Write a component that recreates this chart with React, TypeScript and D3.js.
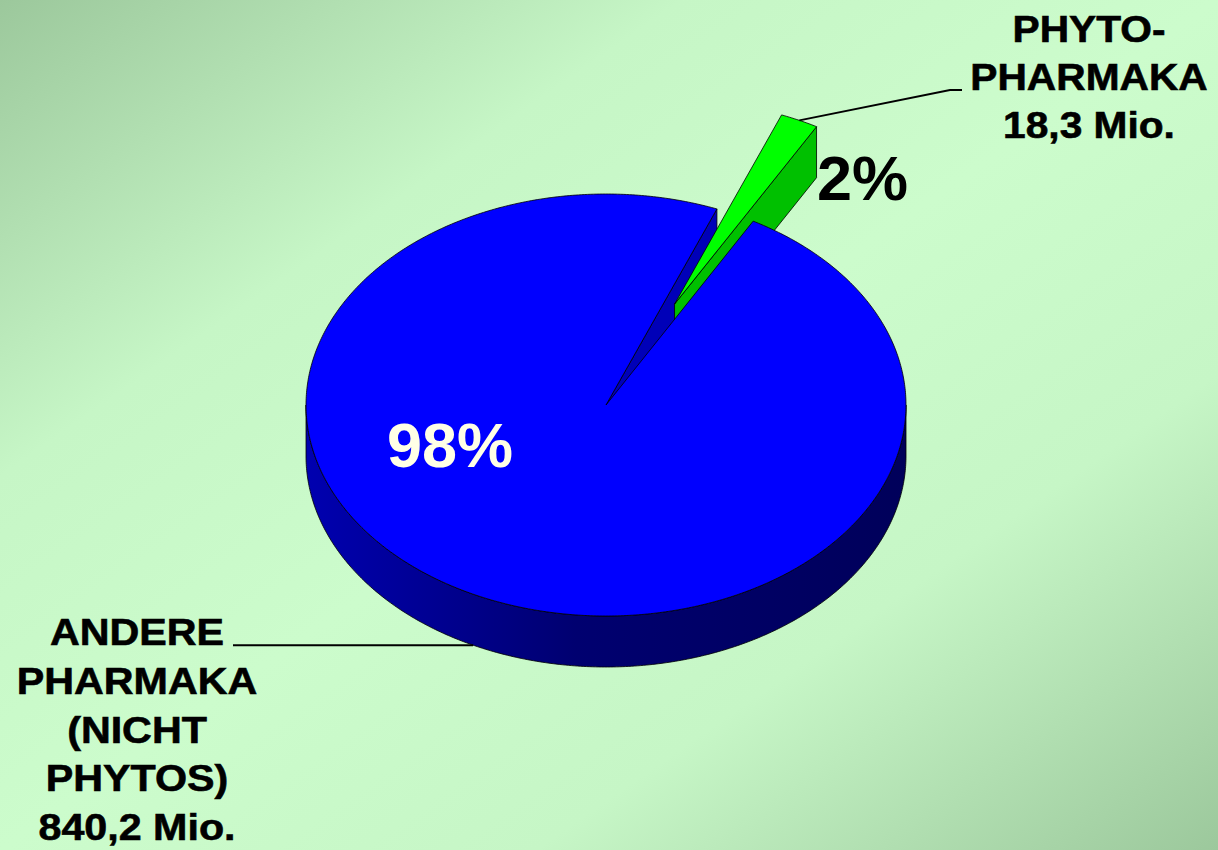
import React from "react";
import * as d3 from "d3";

const categories = ["PHYTO-PHARMAKA", "ANDERE PHARMAKA (NICHT PHYTOS)"];
const values = [18.3, 840.2];
const percentLabels = ["2%", "98%"];
const rightLabelLines = ["PHYTO-", "PHARMAKA", "18,3 Mio."];
const leftLabelLines = ["ANDERE", "PHARMAKA", "(NICHT", "PHYTOS)", "840,2 Mio."];

const W = 1218;
const H = 850;
const CX = 606;
const CY = 405;
const RX = 300;
const RY = 211;
const DEPTH = 51;
const START_DEG = 21.7;
const EXPLODE = 0.53;
const GREEN_R = 0.965;

function proj(theta: number, r: number, z: number, ox = 0, oy = 0): [number, number] {
  return [CX + RX * r * Math.sin(theta) + ox, CY - RY * r * Math.cos(theta) + z * DEPTH + oy];
}

function arcPts(a0: number, a1: number, z: number, ox = 0, oy = 0, r = 1): [number, number][] {
  const n = Math.max(8, Math.ceil(Math.abs(a1 - a0) / 0.01));
  return d3.range(n + 1).map((i) => proj(a0 + ((a1 - a0) * i) / n, r, z, ox, oy));
}

const line = d3.line<[number, number]>().x((d) => d[0]).y((d) => d[1]);

export default function App() {
  const pie = d3
    .pie<number>()
    .sort(null)
    .startAngle((START_DEG * Math.PI) / 180)
    .endAngle((START_DEG * Math.PI) / 180 + 2 * Math.PI)(values);
  const g = pie[0];
  const b = pie[1];
  const mid = (g.startAngle + g.endAngle) / 2;
  const gox = RX * EXPLODE * Math.sin(mid);
  const goy = -RY * EXPLODE * Math.cos(mid);

  // Blue outer side (front half)
  const sideTop = arcPts(Math.PI / 2, (3 * Math.PI) / 2, 0);
  const sideBot = arcPts((3 * Math.PI) / 2, Math.PI / 2, 1);
  const blueSide = line([...sideTop, ...sideBot]) + "Z";

  // Blue end wall
  const bEnd = b.endAngle;
  const blueWall =
    line([proj(0, 0, 0), proj(bEnd, 1, 0), proj(bEnd, 1, 1), proj(0, 0, 1)]) + "Z";

  // Blue top
  const blueTop = line([proj(0, 0, 0), ...arcPts(b.startAngle, b.endAngle, 0)]) + "Z";

  // Green end face & top
  const gEnd = g.endAngle;
  const greenFace =
    line([
      proj(0, 0, 0, gox, goy),
      proj(gEnd, GREEN_R, 0, gox, goy),
      proj(gEnd, GREEN_R, 1, gox, goy),
      proj(0, 0, 1, gox, goy),
    ]) + "Z";
  const greenTop =
    line([proj(0, 0, 0, gox, goy), ...arcPts(g.startAngle, g.endAngle, 0, gox, goy, GREEN_R)]) + "Z";

  // Leader lines
  const gAnchor = proj(mid, GREEN_R, 0, gox, goy);
  const rightLeader = line([gAnchor, [950, 90], [962, 90]]);
  const bAnchor = proj((206.3 * Math.PI) / 180, 1, 1);
  const leftLeader = line([[233, bAnchor[1]], bAnchor]);

  const font = "'Liberation Sans', Arial, sans-serif";

  return (
    <svg
      width={W}
      height={H}
      style={{ position: "fixed", left: 0, top: 0 }}
      xmlns="http://www.w3.org/2000/svg"
    >
      <defs>
        <linearGradient id="bg" x1="0" y1="0" x2="1" y2="1">
          <stop offset="0" stopColor="#9cc89c" />
          <stop offset="0.28" stopColor="#c6f6c6" />
          <stop offset="0.5" stopColor="#ccfccc" />
          <stop offset="0.72" stopColor="#c6f6c6" />
          <stop offset="1" stopColor="#9cc89c" />
        </linearGradient>
        <linearGradient id="side" gradientUnits="userSpaceOnUse" x1={CX - RX} y1="0" x2={CX + RX} y2="0">
          <stop offset="0" stopColor="#0000b0" />
          <stop offset="0.45" stopColor="#000070" />
          <stop offset="1" stopColor="#00005a" />
        </linearGradient>
      </defs>
      <rect x={0} y={0} width={W} height={H} fill="url(#bg)" />

      <path d={blueSide} fill="url(#side)" stroke="#000" strokeWidth={0.8} />
      <path d={blueWall} fill="#0000b8" stroke="#000" strokeWidth={0.8} />
      <path d={greenFace} fill="#00c000" stroke="#000" strokeWidth={0.8} />
      <path d={greenTop} fill="#00ff00" stroke="#000" strokeWidth={0.8} />
      <path d={blueTop} fill="#0000ff" stroke="#000" strokeWidth={0.8} />

      <path d={rightLeader} fill="none" stroke="#000" strokeWidth={2} />
      <path d={leftLeader} fill="none" stroke="#000" strokeWidth={2} />

      <text x={817} y={200} fontFamily={font} fontWeight="bold" fontSize={63} fill="#000">
        {percentLabels[0]}
      </text>
      <text x={387} y={467} fontFamily={font} fontWeight="bold" fontSize={63} fill="#ffffe6">
        {percentLabels[1]}
      </text>

      <g transform="translate(1089,0) scale(1.1,1)">
        {rightLabelLines.map((t, i) => (
          <text
            key={t}
            x={0}
            y={42 + i * 48}
            textAnchor="middle"
            fontFamily={font}
            fontWeight="bold"
            fontSize={37}
            fill="#000"
            stroke="#000"
            strokeWidth={0.6}
          >
            {t}
          </text>
        ))}
      </g>
      <g transform="translate(137,0) scale(1.1,1)">
        {leftLabelLines.map((t, i) => (
          <text
            key={t}
            x={0}
            y={645 + i * 48.8}
            textAnchor="middle"
            fontFamily={font}
            fontWeight="bold"
            fontSize={37.5}
            fill="#000"
            stroke="#000"
            strokeWidth={0.6}
          >
            {t}
          </text>
        ))}
      </g>
      <title>{categories.join(" / ")}</title>
    </svg>
  );
}
